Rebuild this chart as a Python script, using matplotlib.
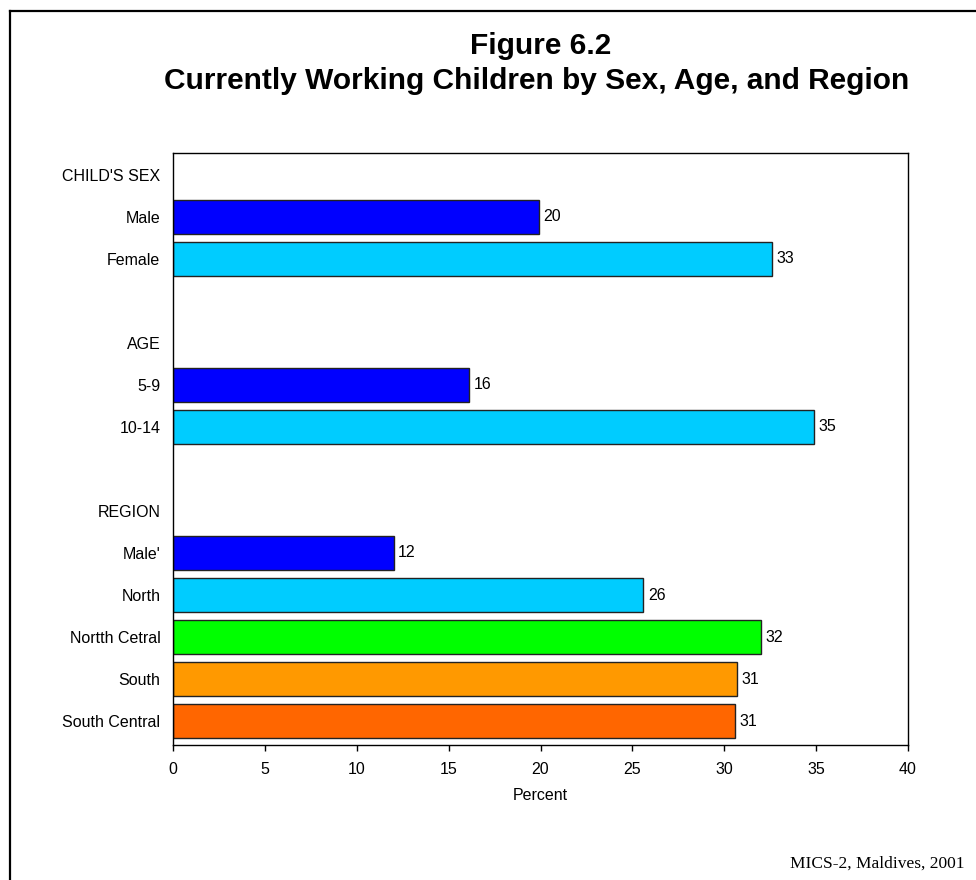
import matplotlib
matplotlib.use("Agg")
import matplotlib.pyplot as plt
from matplotlib.lines import Line2D

plt.rcParams['font.family'] = ['Liberation Sans', 'DejaVu Sans']

# Data
sex_labels = ["Male", "Female"]
sex_values = [19.9, 32.6]
age_labels = ["5-9", "10-14"]
age_values = [16.1, 34.9]
region_labels = ["Male'", "North", "Nortth Cetral", "South", "South Central"]
region_values = [12.0, 25.6, 32.0, 30.7, 30.6]
group_titles = ["CHILD'S SEX", "AGE", "REGION"]
x_ticks = [0, 5, 10, 15, 20, 25, 30, 35, 40]

pair_colors = ["#0000FF", "#00CCFF"]
region_colors = ["#0000FF", "#00CCFF", "#00FF00", "#FF9900", "#FF6600"]

# Build rows: group header, members, blank spacer between groups
rows = []  # (label, value, color)
groups = [
    (group_titles[0], sex_labels, sex_values, pair_colors),
    (group_titles[1], age_labels, age_values, pair_colors),
    (group_titles[2], region_labels, region_values, region_colors),
]
for gi, (title, labs, vals, cols) in enumerate(groups):
    rows.append((title, None, None))
    for lab, val, col in zip(labs, vals, cols):
        rows.append((lab, val, col))
    if gi < len(groups) - 1:
        rows.append(("", None, None))

fig = plt.figure(figsize=(9.76, 8.8), dpi=100)
ax = fig.add_axes([173/976, 1 - 745/880, (908 - 173)/976, (745 - 153)/880])

fs = 11.5
positions = list(range(len(rows)))
for pos, (lab, val, col) in zip(positions, rows):
    if val is None:
        continue
    ax.barh(pos, val, height=0.82, color=col, edgecolor="#222222", linewidth=1.0)
    ax.text(val + 0.25, pos, f"{val:.0f}", va="center", ha="left", fontsize=fs)

ax.set_yticks(positions)
ax.set_yticklabels([r[0] for r in rows], fontsize=fs)
ax.tick_params(axis="y", length=0, pad=9)
ax.set_xticks(x_ticks)
ax.set_xticklabels([str(t) for t in x_ticks], fontsize=fs)
ax.tick_params(axis="x", direction="out", length=4, width=1, pad=8)
ax.set_xlim(0, 40)
ax.set_ylim(len(rows) - 1 + 0.57, -0.52)
ax.set_xlabel("Percent", fontsize=fs, labelpad=8)
for sp in ax.spines.values():
    sp.set_linewidth(1.0)

fig.text(541/976, 1 - 46/880, "Figure 6.2", ha="center", va="center",
         fontsize=21.5, fontweight="bold")
fig.text(537/976, 1 - 81/880, "Currently Working Children by Sex, Age, and Region",
         ha="center", va="center", fontsize=21.5, fontweight="bold")

fig.text(965/976, 1 - 864/880, "MICS-2, Maldives, 2001", ha="right", va="center",
         fontsize=12.5, family=["Liberation Serif", "DejaVu Serif"])

# Outer frame (left and top edges)
x0, y0 = 9.5/976, 1 - 11.5/880
fig.add_artist(Line2D([x0, x0], [0, y0], transform=fig.transFigure, color="black", lw=1.6))
fig.add_artist(Line2D([x0, 1], [y0, y0], transform=fig.transFigure, color="black", lw=1.6))

fig.savefig("out.png", dpi=100)
